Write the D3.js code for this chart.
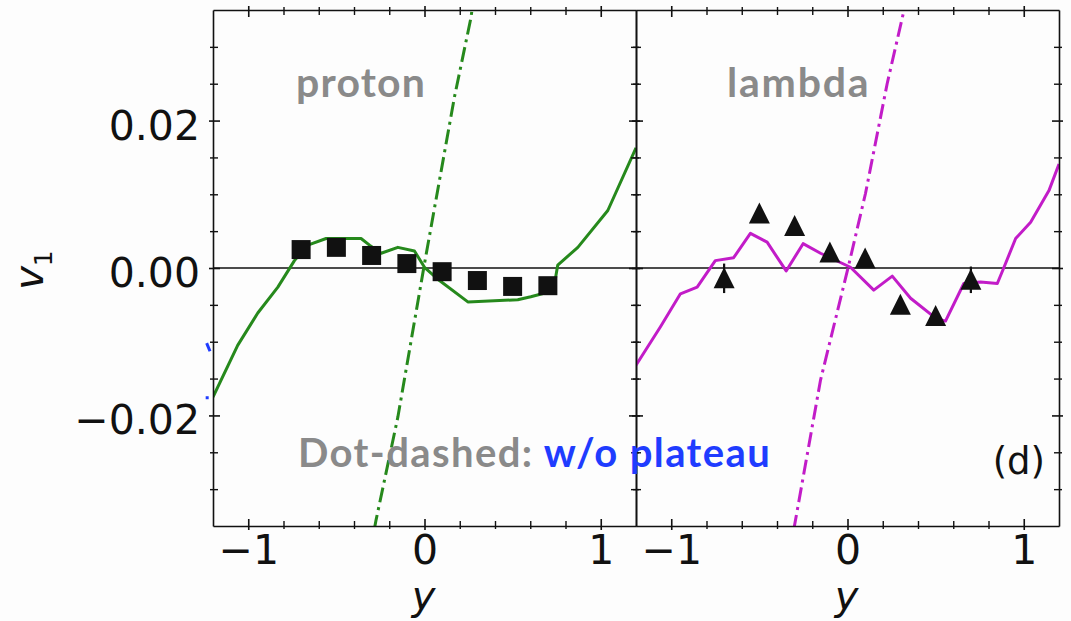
<!DOCTYPE html>
<html>
<head>
<meta charset="utf-8">
<script src="https://cdn.jsdelivr.net/npm/d3@7"></script>
<style>
  body { margin: 0; background: #fdfdfd; }
  svg { display: block; }
</style>
</head>
<body>
<svg id="chart"></svg>
<script>
const W = 1071, H = 621;
const LEFT = 213, TOP = 10, PW = 423, PH = 516;

const X_DOMAIN = [-1.2, 1.2];
const Y_DOMAIN = [-0.035, 0.035];
const X_MAJOR = [-1, 0, 1];
const X_MINOR = [-0.8, -0.6, -0.4, -0.2, 0.2, 0.4, 0.6, 0.8];
const Y_MAJOR = [-0.02, 0, 0.02];
const Y_MINOR = [-0.03, -0.025, -0.015, -0.01, -0.005, 0.005, 0.01, 0.015, 0.025, 0.03];

// proton panel
const P_DATA_Y  = [-0.7, -0.5, -0.3, -0.1, 0.1, 0.3, 0.5, 0.7];
const P_DATA_V1 = [0.0025, 0.0028, 0.0017, 0.0006, -0.0005, -0.0017, -0.0025, -0.0024];
const P_SIM_Y  = [-1.2, -1.06, -0.946, -0.832, -0.738, -0.662, -0.558, -0.36, -0.312, -0.246, -0.151, -0.057, 0, 0.085, 0.246, 0.529, 0.603, 0.70, 0.738, 0.756, 0.87, 1.04, 1.2];
const P_SIM_V1 = [-0.0175, -0.0105, -0.0061, -0.0026, 0.0010, 0.0031, 0.0040, 0.0040, 0.0031, 0.0020, 0.0028, 0.0023, 0.0001, -0.0017, -0.0046, -0.0043, -0.0039, -0.0033, -0.0021, 0.0004, 0.0028, 0.0078, 0.0163];
const P_NOPL_Y  = [-0.285, -0.275, -0.151, 0, 0.170, 0.264, 0.272];
const P_NOPL_V1 = [-0.0355, -0.0342, -0.0202, 0.0006, 0.0232, 0.0340, 0.0355];

// lambda panel
const L_DATA_Y   = [-0.7, -0.5, -0.3, -0.1, 0.1, 0.3, 0.5, 0.7];
const L_DATA_V1  = [-0.0014, 0.0074, 0.0057, 0.0021, 0.0013, -0.0050, -0.0065, -0.0016];
const L_DATA_ERR = [0.0020, 0.0008, 0.0008, 0.0008, 0.0008, 0.0008, 0.0008, 0.0018];
const L_SIM_Y  = [-1.2, -1.062, -0.948, -0.853, -0.750, -0.646, -0.551, -0.456, -0.348, -0.252, -0.153, 0.017, 0.149, 0.254, 0.358, 0.5, 0.556, 0.660, 0.755, 0.850, 0.888, 0.954, 1.039, 1.143, 1.2];
const L_SIM_V1 = [-0.0132, -0.0080, -0.0035, -0.0026, 0.0010, 0.0014, 0.0047, 0.0035, -0.0004, 0.0033, 0.0020, 0.0001, -0.0030, -0.0011, -0.0041, -0.0068, -0.0072, -0.0021, -0.0019, -0.0021, 0.0001, 0.0040, 0.0062, 0.0105, 0.0141];
const L_NOPL_Y  = [-0.305, -0.295, -0.153, 0, 0.102, 0.225, 0.32, 0.325];
const L_NOPL_V1 = [-0.0355, -0.0342, -0.0152, -0.0003, 0.0101, 0.0250, 0.0349, 0.0355];

// clipped fragment of the neighbouring panel's blue curve
const EDGE_DASH_Y  = [-1.236, -1.217];
const EDGE_DASH_V1 = [-0.0102, -0.0113];
const EDGE_DOT = [-1.233, -0.0176];

const GREEN = "#26891c", MAGENTA = "#c21cc8", GRAY = "#8a8a8a", BLUE = "#1f3cff", INK = "#111";
const TICK_FONT = "'DejaVu Sans', sans-serif";
const NOTE_FONT = "Lato, 'Open Sans', sans-serif";

const svg = d3.select("#chart").attr("width", W).attr("height", H)
  .style("background", "#fdfdfd");

const x = d3.scaleLinear().domain(X_DOMAIN).range([0, PW]);
const y = d3.scaleLinear().domain(Y_DOMAIN).range([PH, 0]);
const line = d3.line().x(d => x(d[0])).y(d => y(d[1]));
const zip = (a, b) => a.map((v, i) => [v, b[i]]);

function drawAxes(g, showYLabels) {
  const sides = [
    { axis: d3.axisLeft, at: [0, 0], dim: "x", out: -1 },
    { axis: d3.axisRight, at: [PW, 0], dim: "x", out: 1 },
    { axis: d3.axisTop, at: [0, 0], dim: "y", out: -1 },
    { axis: d3.axisBottom, at: [0, PH], dim: "y", out: 1 }
  ];
  sides.forEach(s => {
    const isY = s.dim === "x";
    const scale = isY ? y : x;
    const major = isY ? Y_MAJOR : X_MAJOR;
    const minor = isY ? Y_MINOR : X_MINOR;
    const labelled = (s.axis === d3.axisBottom) || (s.axis === d3.axisLeft && showYLabels);
    const fmt = isY ? d3.format(".2f") : d3.format("d");

    // minor ticks
    const gm = g.append("g").attr("transform", `translate(${s.at})`)
      .call(s.axis(scale).tickValues(minor).tickSizeInner(-5).tickSizeOuter(0).tickFormat(""));
    gm.select(".domain").remove();
    gm.selectAll(".tick line").attr(s.dim + "1", s.out * 3).attr("stroke", INK).attr("stroke-width", 1.4);

    // major ticks + labels
    const gM = g.append("g").attr("transform", `translate(${s.at})`)
      .call(s.axis(scale).tickValues(major).tickSizeInner(-7).tickSizeOuter(0)
        .tickPadding(isY ? 13 : 9).tickFormat(labelled ? fmt : ""));
    gM.select(".domain").attr("stroke", INK).attr("stroke-width", 1.6);
    gM.selectAll(".tick line").attr(s.dim + "1", s.out * 4).attr("stroke", INK).attr("stroke-width", 1.6);
    gM.selectAll(".tick text").attr("fill", INK)
      .style("font-family", TICK_FONT).style("font-size", "41px")
      .attr("dy", isY ? "0.45em" : "0.71em");
  });
}

function drawPanel(ox, cfg) {
  const g = svg.append("g").attr("transform", `translate(${ox},${TOP})`);
  const clipId = "clip" + cfg.id;
  g.append("clipPath").attr("id", clipId)
    .append("rect").attr("width", PW).attr("height", PH);
  const plot = g.append("g").attr("clip-path", `url(#${clipId})`);

  // zero line
  plot.append("line").attr("x1", 0).attr("x2", PW).attr("y1", y(0)).attr("y2", y(0))
    .attr("stroke", INK).attr("stroke-width", 1.5);

  plot.append("path").datum(zip(cfg.simY, cfg.simV1)).attr("d", line)
    .attr("fill", "none").attr("stroke", cfg.color).attr("stroke-width", 3)
    .attr("stroke-linejoin", "round");

  plot.append("path").datum(zip(cfg.noplY, cfg.noplV1)).attr("d", line)
    .attr("fill", "none").attr("stroke", cfg.color).attr("stroke-width", 3)
    .attr("stroke-dasharray", "15,5,3,5");

  const pts = zip(cfg.dataY, cfg.dataV1);
  if (cfg.err) {
    g.selectAll(".err").data(pts).enter().append("line")
      .attr("x1", d => x(d[0])).attr("x2", d => x(d[0]))
      .attr("y1", (d, i) => y(d[1] + cfg.err[i])).attr("y2", (d, i) => y(d[1] - cfg.err[i]))
      .attr("stroke", INK).attr("stroke-width", 2.2);
  }
  g.selectAll(".pt").data(pts).enter().append("path")
    .attr("transform", d => `translate(${x(d[0])},${y(d[1])})`)
    .attr("d", cfg.marker)
    .attr("fill", INK);

  drawAxes(g, cfg.id === "p");

  g.append("text").attr("x", cfg.labelX).attr("y", 87)
    .style("font-family", NOTE_FONT).style("font-weight", 700)
    .style("letter-spacing", cfg.spacing + "px")
    .style("font-size", "41px").attr("fill", GRAY).text(cfg.label);

  g.append("text").attr("x", PW / 2 - 1).attr("y", 610 - TOP)
    .attr("text-anchor", "middle")
    .style("font-family", TICK_FONT).style("font-style", "italic").style("font-size", "40px")
    .attr("fill", INK).text("y");
  return g;
}

const SQUARE = "M-9.5,-9.5H9.5V9.5H-9.5Z";
const TRIANGLE = "M0,-11L-10.5,10L10.5,10Z";

const gp = drawPanel(LEFT, {
  id: "p", color: GREEN, label: "proton", labelX: 83, spacing: 1.2,
  simY: P_SIM_Y, simV1: P_SIM_V1, noplY: P_NOPL_Y, noplV1: P_NOPL_V1,
  dataY: P_DATA_Y, dataV1: P_DATA_V1, marker: SQUARE
});
const gl = drawPanel(LEFT + PW, {
  id: "l", color: MAGENTA, label: "lambda", labelX: 91, spacing: 1.8,
  simY: L_SIM_Y, simV1: L_SIM_V1, noplY: L_NOPL_Y, noplV1: L_NOPL_V1,
  dataY: L_DATA_Y, dataV1: L_DATA_V1, err: L_DATA_ERR, marker: TRIANGLE
});

// blue fragment left of the proton panel
gp.append("path").datum(zip(EDGE_DASH_Y, EDGE_DASH_V1)).attr("d", line)
  .attr("stroke", BLUE).attr("stroke-width", 3).attr("fill", "none");
gp.append("rect").attr("x", x(EDGE_DOT[0]) - 1.5).attr("y", y(EDGE_DOT[1]) - 1.5)
  .attr("width", 3).attr("height", 3).attr("fill", BLUE);

// y axis label v_1
const vl = svg.append("text")
  .attr("transform", "translate(43,270) rotate(-90)")
  .attr("text-anchor", "middle")
  .style("font-family", TICK_FONT).style("font-size", "40px").attr("fill", INK);
vl.append("tspan").style("font-style", "italic").text("v");
vl.append("tspan").attr("dy", 9).style("font-size", "25px").text("1");

// legend note
const note = svg.append("text").attr("x", 298).attr("y", 467)
  .style("font-family", NOTE_FONT).style("font-weight", 700)
  .style("letter-spacing", "1.4px")
  .style("font-size", "40px");
note.append("tspan").attr("fill", GRAY).text("Dot-dashed: ");
note.append("tspan").attr("fill", BLUE).text("w/o plateau");

svg.append("text").attr("x", 1045).attr("y", 474).attr("text-anchor", "end")
  .style("font-family", TICK_FONT).style("font-size", "37px").attr("fill", INK).text("(d)");
</script>
</body>
</html>
